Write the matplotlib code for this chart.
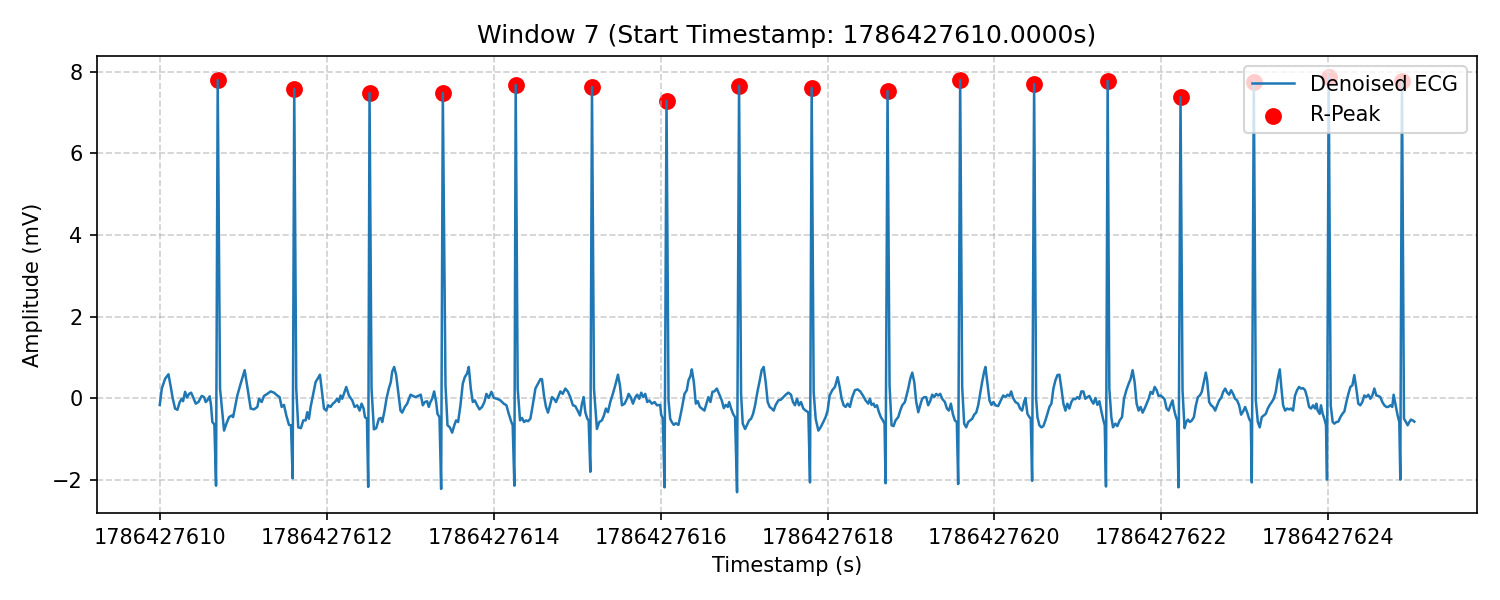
import numpy as np
import matplotlib
matplotlib.use("Agg")
import matplotlib.pyplot as plt

start_ts = 1786427610.0
window_no = 7

# Denoised ECG: time offset (s) and amplitude (mV), in 5 pieces
t_seg1 = [0.000, 0.024, 0.064, 0.104, 0.132, 0.152, 0.183, 0.211, 0.239, 0.263,
          0.279, 0.303, 0.327, 0.351, 0.375, 0.399, 0.431, 0.463, 0.503, 0.531,
          0.550, 0.570, 0.598, 0.614, 0.630, 0.654, 0.674, 0.694, 0.722, 0.770,
          0.798, 0.830, 0.862, 0.878, 0.894, 0.929, 0.969, 1.017, 1.049, 1.089,
          1.129, 1.169, 1.189, 1.221, 1.249, 1.288, 1.328, 1.368, 1.408, 1.436,
          1.460, 1.488, 1.516, 1.548, 1.572, 1.592, 1.611, 1.635, 1.659, 1.691,
          1.719, 1.747, 1.767, 1.787, 1.807, 1.835, 1.867, 1.891, 1.919, 1.939,
          1.967, 1.994, 2.018, 2.046, 2.074, 2.098, 2.126, 2.146, 2.166, 2.186,
          2.206, 2.234, 2.266, 2.306, 2.334, 2.366, 2.394, 2.418, 2.442, 2.458,
          2.482, 2.497, 2.513, 2.537, 2.565, 2.593, 2.625, 2.649, 2.665, 2.693,
          2.716, 2.744, 2.768, 2.784, 2.808, 2.832, 2.856, 2.884, 2.904, 2.936,
          2.964, 3.004]
a_seg1 = [-0.16, 0.24, 0.48, 0.59, 0.28, 0.03, -0.25, -0.28, -0.09, -0.01,
          -0.07, 0.16, 0.02, 0.11, 0.14, 0.03, -0.13, -0.09, 0.06, 0.03,
          -0.09, -0.05, 0.05, -0.17, -0.58, -0.64, -2.14, 7.80, 0.24, -0.79,
          -0.62, -0.46, -0.42, -0.46, -0.30, 0.07, 0.36, 0.69, 0.28, -0.25,
          -0.27, -0.21, -0.01, -0.09, 0.06, 0.11, 0.17, 0.14, 0.07, 0.03,
          -0.21, -0.16, -0.42, -0.65, -0.66, -1.96, 7.58, 0.24, -0.71, -0.73,
          -0.54, -0.54, -0.34, -0.50, -0.21, 0.07, 0.40, 0.48, 0.58, 0.24,
          -0.25, -0.30, -0.17, -0.21, -0.13, -0.09, -0.01, -0.09, 0.07, -0.01,
          0.11, 0.28, 0.07, -0.05, -0.21, -0.17, -0.30, -0.13, -0.25, -0.46,
          -0.50, -2.17, 7.48, 0.24, -0.76, -0.73, -0.50, -0.48, -0.58, -0.30,
          -0.01, 0.24, 0.40, 0.65, 0.77, 0.57, 0.16, -0.30, -0.35, -0.21,
          -0.13, 0.09]

t_seg2 = [3.032, 3.064, 3.096, 3.127, 3.151, 3.175, 3.203, 3.223, 3.243, 3.263,
          3.287, 3.311, 3.327, 3.351, 3.371, 3.391, 3.423, 3.447, 3.475, 3.503,
          3.530, 3.550, 3.574, 3.602, 3.630, 3.654, 3.682, 3.702, 3.726, 3.750,
          3.774, 3.802, 3.830, 3.861, 3.889, 3.913, 3.941, 3.973, 4.001, 4.041,
          4.081, 4.121, 4.153, 4.181, 4.212, 4.228, 4.248, 4.264, 4.288, 4.316,
          4.340, 4.364, 4.388, 4.412, 4.440, 4.468, 4.500, 4.532, 4.560, 4.579,
          4.603, 4.627, 4.651, 4.675, 4.699, 4.723, 4.747, 4.771, 4.799, 4.827,
          4.859, 4.891, 4.918, 4.950, 4.978, 5.006, 5.034, 5.058, 5.078, 5.098,
          5.122, 5.138, 5.158, 5.178, 5.202, 5.237, 5.265, 5.297, 5.321, 5.345,
          5.369, 5.397, 5.425, 5.457, 5.489, 5.513, 5.537, 5.569, 5.597, 5.617,
          5.641, 5.669, 5.697, 5.720, 5.744, 5.768, 5.792, 5.816, 5.840, 5.864,
          5.896, 5.928, 5.956, 5.995]
a_seg2 = [0.06, 0.03, 0.06, 0.09, -0.17, -0.09, -0.07, -0.21, -0.09, -0.01,
          0.17, -0.09, -0.38, -0.46, -2.22, 7.48, 0.32, -0.66, -0.71, -0.84,
          -0.65, -0.54, -0.58, -0.17, 0.36, 0.52, 0.61, 0.77, 0.24, -0.09,
          -0.05, -0.17, -0.27, -0.21, -0.09, 0.11, 0.01, 0.16, 0.01, -0.01,
          -0.05, -0.13, -0.17, -0.38, -0.58, -0.66, -2.14, 7.68, 0.24, -0.54,
          -0.48, -0.58, -0.54, -0.56, -0.50, -0.17, 0.24, 0.36, 0.47, 0.47,
          0.07, -0.21, -0.35, -0.17, 0.03, -0.01, -0.09, 0.03, 0.17, 0.11,
          0.24, 0.16, 0.03, -0.17, -0.19, -0.30, -0.42, -0.13, 0.03, -0.34,
          -0.50, -0.54, -1.80, 7.63, 0.24, -0.75, -0.58, -0.54, -0.42, -0.25,
          -0.34, -0.09, 0.09, 0.32, 0.58, 0.32, -0.17, -0.13, -0.01, 0.11,
          0.03, -0.13, 0.03, 0.09, -0.01, 0.14, 0.03, 0.11, -0.09, -0.05,
          -0.13, -0.09, -0.17, -0.16]

t_seg3 = [6.007, 6.027, 6.047, 6.071, 6.095, 6.115, 6.134, 6.158, 6.182, 6.214,
          6.238, 6.262, 6.286, 6.314, 6.334, 6.358, 6.374, 6.398, 6.422, 6.446,
          6.470, 6.494, 6.525, 6.549, 6.573, 6.597, 6.621, 6.645, 6.673, 6.701,
          6.733, 6.757, 6.781, 6.805, 6.821, 6.845, 6.868, 6.892, 6.916, 6.940,
          6.964, 6.984, 7.012, 7.036, 7.060, 7.084, 7.108, 7.132, 7.160, 7.188,
          7.211, 7.235, 7.259, 7.283, 7.307, 7.331, 7.355, 7.379, 7.411, 7.443,
          7.471, 7.499, 7.531, 7.562, 7.586, 7.610, 7.634, 7.658, 7.682, 7.710,
          7.738, 7.770, 7.790, 7.810, 7.834, 7.858, 7.890, 7.917, 7.949, 7.977,
          8.001, 8.025, 8.057, 8.089, 8.121, 8.145, 8.169, 8.193, 8.217, 8.241,
          8.268, 8.296, 8.328, 8.360, 8.392, 8.424, 8.456, 8.488, 8.508, 8.528,
          8.552, 8.568, 8.592, 8.616, 8.639, 8.663, 8.683, 8.695, 8.719, 8.743,
          8.767, 8.791, 8.815, 8.847, 8.871, 8.895, 8.927]
a_seg3 = [-0.40, -0.50, -2.18, 7.29, -0.05, -0.50, -0.58, -0.65, -0.61, -0.65,
          -0.42, -0.17, 0.11, 0.20, 0.44, 0.55, 0.71, 0.40, -0.13, -0.07,
          -0.21, -0.25, -0.30, -0.13, 0.03, -0.09, 0.16, 0.17, 0.24, 0.11,
          -0.05, -0.24, -0.16, -0.21, -0.09, -0.25, -0.38, -0.46, -2.30, 7.66,
          0.11, -0.62, -0.75, -0.65, -0.54, -0.50, -0.38, -0.17, 0.16, 0.44,
          0.69, 0.77, 0.40, -0.09, -0.21, -0.25, -0.30, -0.16, -0.05, -0.03,
          0.03, 0.09, 0.14, 0.09, -0.09, -0.17, -0.01, -0.17, -0.09, -0.25,
          -0.30, -0.34, -2.06, 7.61, 0.15, -0.50, -0.79, -0.71, -0.58, -0.46,
          -0.30, 0.07, 0.20, 0.28, 0.52, 0.28, -0.01, -0.17, -0.21, -0.13,
          -0.21, 0.03, 0.20, 0.22, 0.17, 0.07, -0.05, -0.13, -0.01, -0.16,
          -0.13, -0.21, -0.17, -0.34, -0.46, -0.54, -0.62, -2.08, 7.53, 0.32,
          -0.66, -0.68, -0.54, -0.46, -0.30, -0.17, -0.09]

t_seg4 = [8.967, 8.991, 9.015, 9.039, 9.063, 9.087, 9.110, 9.134, 9.158, 9.182,
          9.206, 9.230, 9.254, 9.278, 9.302, 9.326, 9.350, 9.374, 9.406, 9.430,
          9.454, 9.478, 9.501, 9.525, 9.549, 9.565, 9.589, 9.613, 9.637, 9.661,
          9.685, 9.709, 9.733, 9.757, 9.781, 9.805, 9.828, 9.852, 9.876, 9.892,
          9.916, 9.940, 9.964, 9.988, 10.012, 10.044, 10.076, 10.104, 10.132, 10.156,
          10.180, 10.200, 10.223, 10.251, 10.283, 10.307, 10.331, 10.355, 10.371, 10.395,
          10.419, 10.435, 10.451, 10.475, 10.499, 10.515, 10.538, 10.562, 10.586, 10.610,
          10.634, 10.658, 10.682, 10.706, 10.730, 10.754, 10.778, 10.802, 10.826, 10.850,
          10.873, 10.897, 10.921, 10.945, 10.969, 10.993, 11.017, 11.041, 11.065, 11.089,
          11.113, 11.137, 11.161, 11.185, 11.209, 11.233, 11.257, 11.281, 11.305, 11.321,
          11.336, 11.356, 11.376, 11.400, 11.420, 11.448, 11.472, 11.500, 11.528, 11.552,
          11.580, 11.608, 11.632, 11.655, 11.679, 11.703, 11.727, 11.751, 11.775, 11.799,
          11.823, 11.847, 11.871, 11.895, 11.919, 11.943]
a_seg4 = [0.24, 0.48, 0.63, 0.40, -0.09, -0.34, -0.17, -0.01, 0.03, 0.03,
          -0.17, -0.07, 0.09, 0.03, 0.11, 0.07, 0.11, -0.01, -0.09, -0.25,
          -0.30, -0.13, -0.38, -0.54, -0.58, -2.10, 7.80, 0.28, -0.62, -0.71,
          -0.58, -0.54, -0.50, -0.40, -0.35, -0.17, 0.11, 0.40, 0.65, 0.77,
          0.36, -0.05, -0.16, -0.09, -0.17, -0.19, -0.05, 0.07, 0.03, 0.09,
          0.06, 0.17, 0.01, -0.09, -0.13, -0.25, -0.30, -0.09, 0.01, -0.38,
          -0.46, -0.50, -2.02, 7.70, -0.01, -0.46, -0.66, -0.71, -0.68, -0.54,
          -0.38, -0.21, -0.13, 0.24, 0.44, 0.57, 0.58, 0.24, -0.13, -0.30,
          -0.13, -0.25, -0.09, -0.01, -0.02, 0.03, -0.01, 0.17, 0.17, -0.01,
          0.03, 0.06, -0.05, -0.13, 0.01, -0.16, -0.07, -0.32, -0.54, -0.66,
          -2.16, 7.78, 0.24, -0.46, -0.71, -0.62, -0.68, -0.54, -0.46, -0.01,
          0.20, 0.36, 0.48, 0.69, 0.40, -0.13, -0.30, -0.21, -0.35, -0.25,
          -0.13, -0.01, 0.16, 0.11, 0.28, 0.20]

t_seg5 = [11.966, 11.990, 12.014, 12.038, 12.062, 12.086, 12.109, 12.133, 12.149, 12.169,
          12.189, 12.205, 12.229, 12.253, 12.277, 12.297, 12.317, 12.341, 12.365, 12.389,
          12.413, 12.437, 12.460, 12.484, 12.508, 12.532, 12.548, 12.572, 12.596, 12.620,
          12.644, 12.668, 12.692, 12.716, 12.740, 12.764, 12.788, 12.812, 12.835, 12.859,
          12.883, 12.907, 12.931, 12.955, 12.979, 13.003, 13.027, 13.051, 13.071, 13.083,
          13.107, 13.131, 13.155, 13.178, 13.202, 13.226, 13.250, 13.274, 13.298, 13.322,
          13.346, 13.370, 13.394, 13.418, 13.438, 13.458, 13.482, 13.505, 13.529, 13.553,
          13.577, 13.601, 13.625, 13.649, 13.673, 13.697, 13.721, 13.745, 13.769, 13.793,
          13.817, 13.841, 13.857, 13.872, 13.896, 13.912, 13.932, 13.952, 13.972, 13.984,
          14.004, 14.028, 14.052, 14.072, 14.096, 14.120, 14.144, 14.168, 14.192, 14.216,
          14.240, 14.264, 14.288, 14.311, 14.335, 14.359, 14.383, 14.407, 14.431, 14.455,
          14.479, 14.503, 14.527, 14.551, 14.575, 14.599, 14.623, 14.647, 14.671, 14.695,
          14.718, 14.742, 14.766, 14.782, 14.806, 14.830, 14.850, 14.862, 14.882, 14.906,
          14.930, 14.950, 14.970, 14.990, 15.010, 15.030]
a_seg5 = [0.06, 0.07, 0.03, -0.02, -0.25, -0.30, -0.17, -0.05, -0.25, -0.42,
          -0.54, -2.18, 7.38, 0.20, -0.73, -0.58, -0.52, -0.58, -0.54, -0.46,
          -0.17, 0.03, 0.07, 0.16, 0.40, 0.63, 0.44, -0.09, -0.17, -0.21,
          -0.30, -0.17, -0.05, 0.01, 0.16, 0.24, 0.14, 0.09, 0.20, 0.11,
          -0.01, -0.05, -0.17, -0.40, -0.32, -0.21, -0.34, -0.50, -0.58, -2.06,
          7.75, -0.05, -0.58, -0.71, -0.46, -0.42, -0.38, -0.25, -0.16, -0.09,
          -0.01, 0.16, 0.48, 0.71, 0.24, -0.17, -0.30, -0.25, -0.27, -0.25,
          -0.30, 0.07, 0.20, 0.28, 0.24, 0.25, 0.20, 0.03, -0.21, -0.25,
          -0.17, -0.25, -0.13, -0.30, -0.38, -0.17, -0.38, -0.50, -0.66, -1.99,
          7.88, -0.17, -0.58, -0.62, -0.58, -0.57, -0.46, -0.38, -0.32, -0.09,
          0.11, 0.28, 0.32, 0.57, 0.24, -0.13, -0.17, -0.09, 0.07, 0.03,
          0.09, -0.01, 0.07, 0.24, 0.07, 0.06, 0.03, -0.09, -0.17, -0.21,
          -0.21, -0.17, -0.21, 0.09, -0.17, -0.42, -0.58, -1.99, 7.78, -0.50,
          -0.58, -0.66, -0.58, -0.52, -0.54, -0.57]

# Detected R-peaks
peak_t = [0.694, 1.611, 2.513, 3.391, 4.264, 5.178, 6.071, 6.940, 7.810,
          8.719, 9.589, 10.475, 11.356, 12.229, 13.107, 14.004, 14.882]
peak_amp = [7.80, 7.58, 7.48, 7.48, 7.68, 7.63, 7.29, 7.66, 7.61,
            7.53, 7.80, 7.70, 7.78, 7.38, 7.75, 7.88, 7.78]

t_rel = np.concatenate([t_seg1, t_seg2, t_seg3, t_seg4, t_seg5])
amp = np.concatenate([a_seg1, a_seg2, a_seg3, a_seg4, a_seg5])
ts = start_ts + t_rel
peak_ts = start_ts + np.array(peak_t)

fig, ax = plt.subplots(figsize=(10, 4), dpi=150)
fig.subplots_adjust(left=0.0647, right=0.9847, top=0.9067, bottom=0.145)

ax.plot(ts, amp, color="#1f77b4", linewidth=1.2, label="Denoised ECG")
ax.scatter(peak_ts, peak_amp, color="red", s=50, label="R-Peak")

ax.set_title(f"Window {window_no} (Start Timestamp: {start_ts:.4f}s)", fontsize=12)
ax.set_xlabel("Timestamp (s)")
ax.set_ylabel("Amplitude (mV)")
ax.ticklabel_format(axis="x", useOffset=False, style="plain")
ax.grid(True, linestyle="--", alpha=0.6)
ax.legend(loc="upper right")

fig.savefig("out.png", dpi=150)
